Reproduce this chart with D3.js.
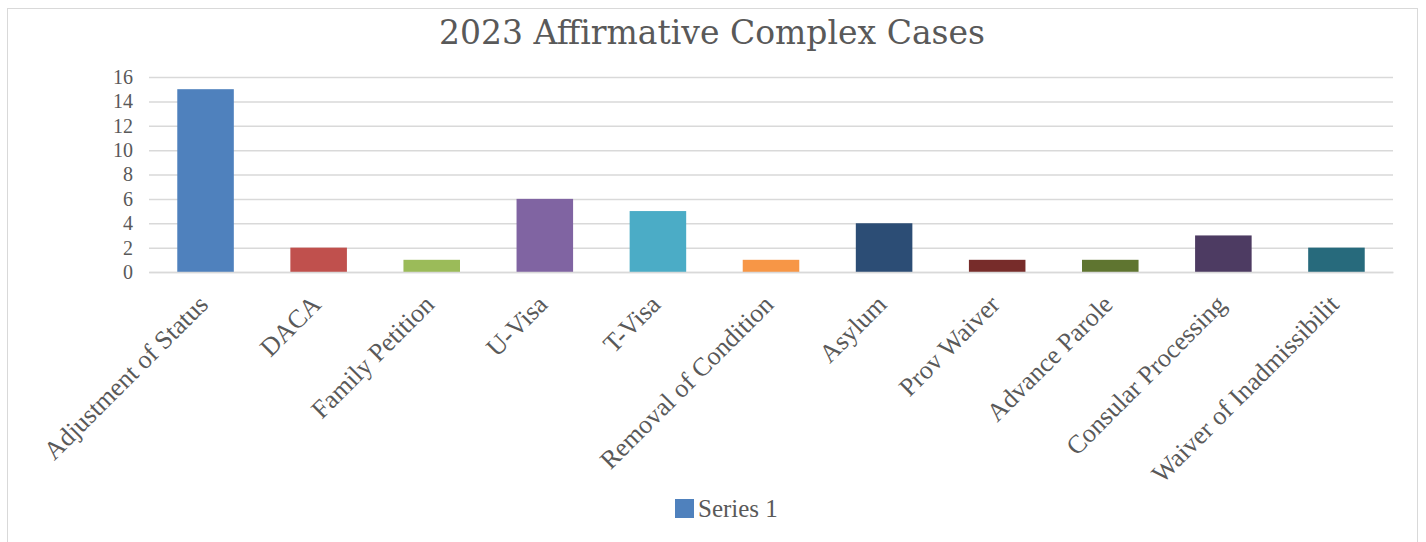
<!DOCTYPE html>
<html>
<head>
<meta charset="utf-8">
<script src="https://cdn.jsdelivr.net/npm/d3@7"></script>
<style>
body { margin: 0; background: #fff; }
</style>
</head>
<body>
<div id="container"></div>
<script>
var categories = ["Adjustment of Status", "DACA", "Family Petition", "U-Visa", "T-Visa",
	"Removal of Condition", "Asylum", "Prov Waiver", "Advance Parole",
	"Consular Processing", "Waiver of Inadmissibilit"];
var values = [15, 2, 1, 6, 5, 1, 4, 1, 1, 3, 2];
var barColors = ["#4F81BD", "#C0504D", "#9BBB59", "#8064A2", "#4BACC6", "#F79646",
	"#2C4D75", "#772C2A", "#5F7530", "#4D3B62", "#276A7C"];
var yTicks = [0, 2, 4, 6, 8, 10, 12, 14, 16];
var seriesName = "Series 1";
var title = "2023 Affirmative Complex Cases";

var width = 1426, height = 542;
var plot = {left: 149, right: 1393, top: 77, bottom: 272};

var xScale = d3.scaleBand().domain(categories).range([plot.left, plot.right]).paddingInner(0.5).paddingOuter(0.25);
var yScale = d3.scaleLinear().domain([0, 16]).range([plot.bottom, plot.top]);

function visualize() {
	var svg = d3.select('#container').append('svg')
		.attr('width', width)
		.attr('height', height);

	svg.append('rect')
		.attr('x', 7.5).attr('y', 8.5)
		.attr('width', 1410).attr('height', 560)
		.attr('fill', 'white')
		.attr('stroke', '#D9D9D9');

	svg.append('text')
		.attr('x', 712).attr('y', 44)
		.attr('text-anchor', 'middle')
		.attr('font-family', 'DejaVu Serif')
		.attr('font-size', 33)
		.attr('fill', '#595959')
		.text(title);

	// gridlines
	var yAxis = d3.axisLeft(yScale).tickValues(yTicks).tickSize(-(plot.right - plot.left)).tickPadding(16);
	var gy = svg.append('g')
		.attr('transform', 'translate(' + plot.left + ',0)')
		.call(yAxis);
	gy.select('.domain').remove();
	gy.selectAll('.tick line').attr('stroke', '#D9D9D9').attr('stroke-width', 1.5);
	gy.selectAll('.tick text')
		.attr('font-family', 'Liberation Serif')
		.attr('font-size', 20)
		.attr('fill', '#595959');

	svg.selectAll('rect.bar').data(values).enter()
		.append('rect')
		.attr('class', 'bar')
		.attr('x', function(d, i){ return xScale(categories[i]); })
		.attr('width', xScale.bandwidth())
		.attr('y', function(d){ return yScale(d); })
		.attr('height', function(d){ return yScale(0) - yScale(d); })
		.attr('fill', function(d, i){ return barColors[i]; });

	var xAxis = d3.axisBottom(xScale).tickSize(0).tickPadding(0);
	var gx = svg.append('g')
		.attr('transform', 'translate(0,' + plot.bottom + ')')
		.call(xAxis);
	gx.select('.domain').attr('stroke', '#D9D9D9').attr('stroke-width', 1.5);
	gx.selectAll('.tick text')
		.attr('font-family', 'Liberation Serif')
		.attr('font-size', 26)
		.attr('fill', '#595959')
		.attr('text-anchor', 'end')
		.attr('dy', 0)
		.attr('y', 0)
		.attr('transform', 'translate(4,34) rotate(-45)');

	var leg = svg.append('g').attr('transform', 'translate(675,499)');
	leg.append('rect').attr('width', 19).attr('height', 19).attr('fill', barColors[0]);
	leg.append('text')
		.attr('x', 23).attr('y', 18)
		.attr('font-family', 'Liberation Serif')
		.attr('font-size', 25)
		.attr('fill', '#595959')
		.text(seriesName);
}

window.onload = visualize;
</script>
</body>
</html>
